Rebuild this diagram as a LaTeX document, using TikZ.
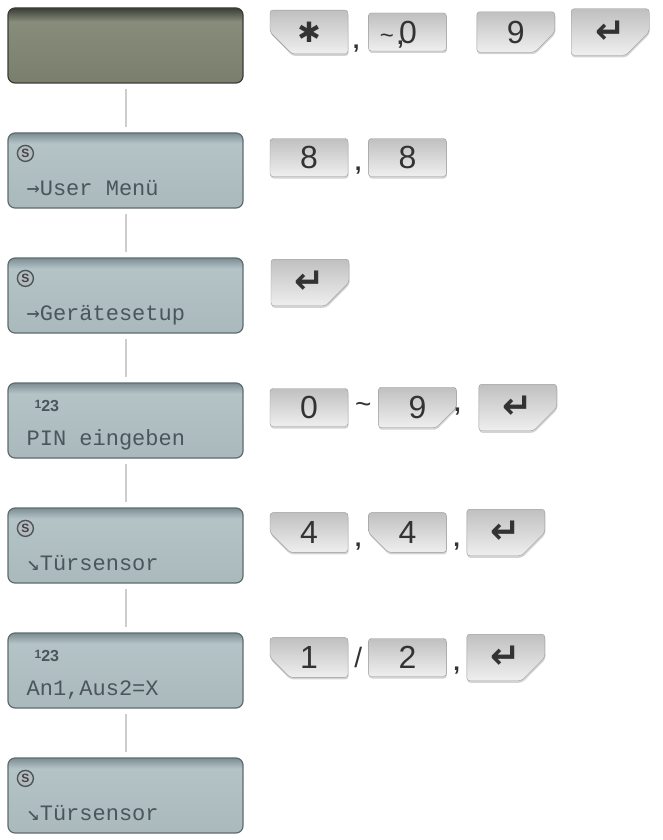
\documentclass[tikz,border=0pt]{standalone}
\usepackage{fontspec}
\setmainfont{Liberation Sans}
\newfontfamily\lcdfont{Liberation Mono}
\newfontfamily\lcdsym{DejaVu Sans Mono}
\newfontfamily\keysym{DejaVu Sans}
\usetikzlibrary{positioning,shapes.misc,shadows}
\definecolor{cLcdTop}{HTML}{7C8D92}
\definecolor{cLcdMid}{HTML}{B4C3C6}
\definecolor{cLcdBot}{HTML}{A9B9BC}
\definecolor{cLcdEdge}{HTML}{5E6C70}
\definecolor{cLcdInk}{HTML}{4A565C}
\definecolor{cOffTop}{HTML}{3A3D36}
\definecolor{cOffMid}{HTML}{888C7A}
\definecolor{cOffBot}{HTML}{7A7E6D}
\definecolor{cKeyTop}{HTML}{C0C0C0}
\definecolor{cKeyBot}{HTML}{EFEFEF}
\definecolor{cKeyEdge}{HTML}{9A9A9A}
\definecolor{cKeyInk}{HTML}{333333}
\definecolor{cLink}{HTML}{CDCDCD}
\pgfdeclareverticalshading{lcdshade}{100bp}{color(0bp)=(cLcdBot); color(25bp)=(cLcdBot);
  color(68bp)=(cLcdMid); color(75bp)=(cLcdTop); color(100bp)=(cLcdTop)}
\pgfdeclareverticalshading{offshade}{100bp}{color(0bp)=(cOffBot); color(25bp)=(cOffBot);
  color(66bp)=(cOffMid); color(75bp)=(cOffTop); color(100bp)=(cOffTop)}
\newcommand\retkey{{\keysym\bfseries\fontsize{36}{36}\selectfont ↵}}
\tikzset{
  lcd/.style={rounded corners=7pt, minimum width=235pt, minimum height=75pt,
              draw=cLcdEdge, line width=1.2pt, shading=lcdshade, inner sep=0pt},
  lcdoff/.style={lcd, draw=cOffTop, shading=offshade},
  lcdtxt/.style={font=\lcdfont\fontsize{22}{22}\selectfont, text=cLcdInk,
                 inner sep=0pt, anchor=base west},
  iconS/.style={circle, draw=cLcdInk, fill=cLcdInk!40, line width=1.4pt, minimum size=16pt,
                inner sep=0pt, font=\bfseries\fontsize{12}{12}\selectfont, text=cLcdInk!80!black},
  iconN/.style={inner sep=0pt, anchor=west, font=\bfseries\fontsize{16}{16}\selectfont, text=cLcdInk},
  keyb/.style={rectangle, rounded corners=3pt, minimum width=78pt, minimum height=38pt,
               inner sep=0pt, draw=cKeyEdge, top color=cKeyTop, bottom color=cKeyBot,
               drop shadow={shadow xshift=0.5pt, shadow yshift=-2pt, opacity=.35},
               font=\fontsize{32}{32}\selectfont, text=cKeyInk},
  keyL/.style={keyb, chamfered rectangle, chamfered rectangle xsep=18pt,
               chamfered rectangle ysep=12pt, chamfered rectangle corners={south west}},
  keyR/.style={keyL, chamfered rectangle corners={south east}},
  sepc/.style={font=\bfseries\fontsize{24}{24}\selectfont, text=cKeyInk, inner sep=0pt, anchor=base},
  sepm/.style={font=\fontsize{28}{28}\selectfont, text=cKeyInk, inner sep=0pt},
  link/.style={draw=cLink, line width=2pt, shorten <=5pt, shorten >=5pt},
}
\begin{document}
\begin{tikzpicture}[x=1pt, y=-1pt]
  \useasboundingbox (0,0) rectangle (662,840);
  % displays
  \node[lcdoff] (d1) at (125.5,45.5) {};
  \foreach \i in {2,...,7}
    \node[lcd] (d\i) at (125.5,{45.5+125*(\i-1)}) {};
  \foreach \a/\b in {1/2, 2/3, 3/4, 4/5, 5/6, 6/7}
    \draw[link] (d\a) -- (d\b);
  % display contents
  \node[iconS] (i2) at ([xshift=18pt,yshift=-21pt]d2.north west) {S};
  \node[lcdtxt] (t2) at ([xshift=19pt,yshift=-63pt]d2.north west) {{\lcdsym →}User Menü};
  \node[iconS] (i3) at ([xshift=18pt,yshift=-21pt]d3.north west) {S};
  \node[lcdtxt] (t3) at ([xshift=19pt,yshift=-63pt]d3.north west) {{\lcdsym →}Gerätesetup};
  \node[iconN] (i4) at ([xshift=27pt,yshift=-24pt]d4.north west) {\raisebox{3pt}{\fontsize{12}{12}\selectfont 1}23};
  \node[lcdtxt] (t4) at ([xshift=19pt,yshift=-63pt]d4.north west) {PIN eingeben};
  \node[iconS] (i5) at ([xshift=18pt,yshift=-21pt]d5.north west) {S};
  \node[lcdtxt] (t5) at ([xshift=19pt,yshift=-63pt]d5.north west) {{\lcdsym ↘}Türsensor};
  \node[iconN] (i6) at ([xshift=27pt,yshift=-24pt]d6.north west) {\raisebox{3pt}{\fontsize{12}{12}\selectfont 1}23};
  \node[lcdtxt] (t6) at ([xshift=19pt,yshift=-63pt]d6.north west) {An1,Aus2=X};
  \node[iconS] (i7) at ([xshift=18pt,yshift=-21pt]d7.north west) {S};
  \node[lcdtxt] (t7) at ([xshift=19pt,yshift=-63pt]d7.north west) {{\lcdsym ↘}Türsensor};
  % keys, row 1
  \node[keyL] (k11) at (309,32) {{\keysym\fontsize{28}{28}\selectfont ✱}};
  \node[keyb, right=20pt of k11] (k12) {{\fontsize{24}{24}\selectfont\textasciitilde}\,0\hspace*{18pt}};
  \node[keyR, right=30pt of k12] (k13) {9};
  \node[keyR, right=16pt of k13] (k14) {\retkey};
  \node[sepc] (s11) at ([xshift=8pt,yshift=6pt]k11.south east) {,};
  \node[sepc] (s12) at ([xshift=-7pt,yshift=7pt]k12.south) {,};
  % row 2
  \node[keyb] (k21) at (309,157.5) {8};
  \node[keyb, right=20pt of k21] (k22) {8};
  \node[sepc] (s21) at ([xshift=10pt,yshift=6pt]k21.south east) {,};
  % row 3
  \node[keyR] (k31) at (310,282.5) {\retkey};
  % row 4
  \node[keyb] (k41) at (309,407.5) {0};
  \node[keyR, right=30pt of k41] (k42) {9};
  \node[keyR, right=22pt of k42] (k43) {\retkey};
  \node[sepm] (s41) at ([xshift=15pt]k41.east) {\textasciitilde};
  \node[sepc] (s42) at ([xshift=11pt,yshift=6pt]k42.south east) {,};
  % row 5
  \node[keyL] (k51) at (309,532.5) {4};
  \node[keyL, right=20pt of k51] (k52) {4};
  \node[keyR, right=20pt of k52] (k53) {\retkey};
  \node[sepc] (s51) at ([xshift=10pt,yshift=6pt]k51.south east) {,};
  \node[sepc] (s52) at ([xshift=10pt,yshift=6pt]k52.south east) {,};
  % row 6
  \node[keyL] (k61) at (309,657.5) {1};
  \node[keyb, right=20pt of k61] (k62) {2};
  \node[keyR, right=20pt of k62] (k63) {\retkey};
  \node[sepm] (s61) at ([xshift=10pt]k61.east) {/};
  \node[sepc] (s62) at ([xshift=10pt,yshift=6pt]k62.south east) {,};
\end{tikzpicture}
\end{document}
